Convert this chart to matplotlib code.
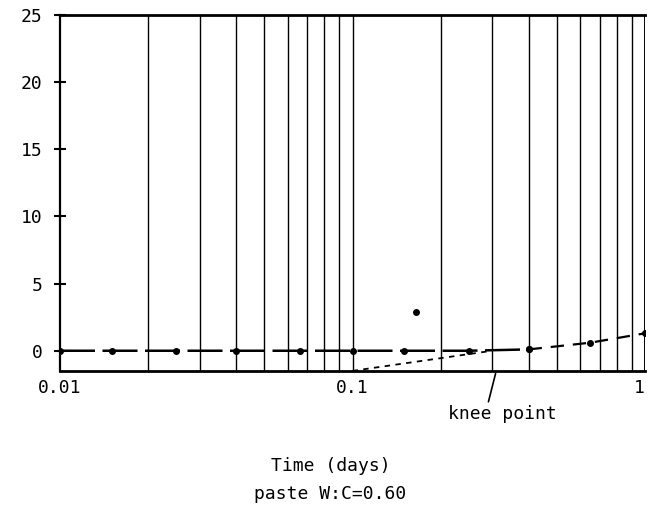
import numpy as np
import matplotlib.pyplot as plt

# measured expansion of the paste over time (log time axis)
days = [0.01, 0.015, 0.025, 0.04, 0.066, 0.1, 0.15, 0.25, 0.40, 0.65, 1.0]
expansion = [0, 0, 0, 0, 0, 0, 0, 0, 0.1, 0.6, 1.3]

# stray reading
outlier_day = [0.165]
outlier_val = [2.9]

# tangent used to locate the knee point
tangent_days = [0.1, 0.3]
tangent_vals = [-1.5, 0]

plt.rcParams['font.family'] = ['DejaVu Sans Mono']

fig = plt.figure(figsize=(6.48, 5.18), dpi=100)
ax = fig.add_axes([0.0926, 0.284, 0.9028, 0.687])

ax.set_xscale('log')
ax.set_xlim(0.01, 1)
ax.set_ylim(-1.5, 25)

# vertical log grid lines
for dec in [0.01, 0.1]:
    for k in range(2, 10):
        ax.axvline(dec * k, color='black', lw=1.0, zorder=1)
ax.axvline(0.1, color='black', lw=1.0, zorder=1)
ax.axvline(1.0, color='black', lw=1.4, zorder=1)

n_flat = 8
ax.plot(days[:n_flat + 1], expansion[:n_flat + 1], color='black', lw=1.8,
        dashes=(14, 3), marker='o', ms=4, zorder=3)
ax.plot(days[n_flat:], expansion[n_flat:], color='black', lw=1.6,
        dashes=(6, 4), marker='o', ms=4, zorder=3)
ax.plot(outlier_day, outlier_val, 'o', color='black', ms=4)
ax.plot(tangent_days, tangent_vals, color='black', lw=1.3, dashes=(3, 3))

ax.set_yticks([0, 5, 10, 15, 20, 25])
ax.set_xticks([0.01, 0.1, 1])
ax.set_xticklabels(['0.01', '0.1', '1'])
ax.get_xticklabels()[-1].set_ha('right')
ax.xaxis.set_minor_locator(plt.NullLocator())
ax.tick_params(axis='y', direction='inout', length=9, width=1.5, labelsize=13, pad=8)
ax.tick_params(axis='x', length=0, labelsize=13, pad=6)

for s in ['top', 'bottom']:
    ax.spines[s].set_linewidth(2)
ax.spines['left'].set_linewidth(1.6)
ax.spines['right'].set_visible(False)

# knee point note
ax.annotate('', xy=(0.31, -1.5), xytext=(0.29, -4.0),
            arrowprops=dict(arrowstyle='-', color='black', lw=1.2),
            annotation_clip=False)
fig.text(0.775, 0.20, 'knee point', ha='center', va='center', fontsize=13)

fig.text(0.51, 0.10, 'Time (days)', ha='center', va='center', fontsize=13)
fig.text(0.51, 0.047, 'paste W:C=0.60', ha='center', va='center', fontsize=13)

fig.savefig('out.png', dpi=100)
